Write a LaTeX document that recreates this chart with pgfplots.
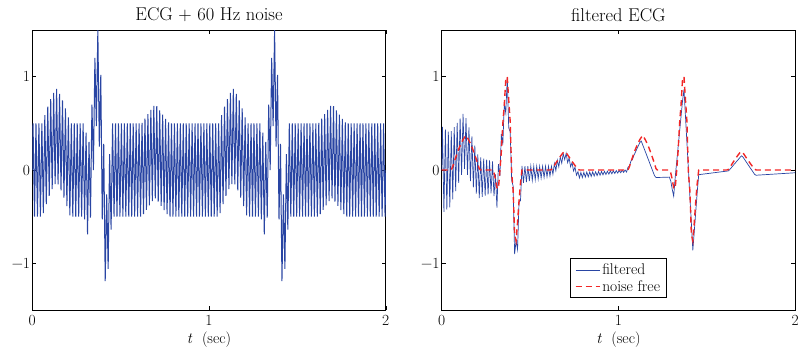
\documentclass[border=0pt]{standalone}
\usepackage{fontspec}
\setmainfont{Latin Modern Roman}
\usepackage{pgfplots}
\usepackage{pgfplotstable}
\pgfplotsset{compat=1.18}

\definecolor{ecgblue}{rgb}{0.16,0.27,0.64}
\definecolor{ecgred}{rgb}{0.95,0.15,0.15}

% t (sec), ECG with 60 Hz interference, noise-free ECG, notch-filtered output
\pgfplotstableread{
t noisy clean filt
0 0 0 0
0.00417 0.5 0 0.463
0.0125 -0.5 0 -0.449
0.02083 0.5 0 0.436
0.02917 -0.5 0 -0.424
0.0375 0.5 0 0.411
0.04583 -0.5 0 -0.399
0.05417 0.5 0 0.416
0.0625 -0.462 0.038 -0.314
0.07083 0.587 0.087 0.46
0.07917 -0.366 0.134 -0.225
0.0875 0.679 0.179 0.506
0.09583 -0.278 0.222 -0.139
0.10417 0.76 0.26 0.553
0.1125 -0.205 0.295 -0.052
0.12083 0.825 0.325 0.6
0.12917 -0.15 0.35 0.013
0.1375 0.87 0.37 0.556
0.14583 -0.155 0.345 -0.052
0.15417 0.816 0.316 0.457
0.1625 -0.217 0.283 -0.118
0.17083 0.746 0.246 0.359
0.17917 -0.295 0.205 -0.186
0.1875 0.66 0.16 0.262
0.19583 -0.386 0.114 -0.254
0.20417 0.565 0.065 0.166
0.2125 -0.485 0.015 -0.3
0.22083 0.5 0 0.134
0.22917 -0.5 0 -0.287
0.2375 0.5 0 0.122
0.24583 -0.5 0 -0.274
0.25417 0.5 0 0.112
0.2625 -0.5 0 -0.262
0.27083 0.5 0 0.102
0.27917 -0.5 0 -0.25
0.2875 0.5 0 0.092
0.29583 -0.53 -0.03 -0.279
0.30417 0.4 -0.1 -0.048
0.3125 -0.69 -0.19 -0.404
0.32083 0.3 -0.2 0.063
0.32917 -0.51 -0.01 -0.065
0.3375 0.7 0.2 0.386
0.34583 0 0.5 0.272
0.35417 1.2 0.7 0.708
0.3625 0.47 0.97 0.611
0.37083 1.5 1.0 0.988
0.37917 0.25 0.75 0.453
0.3875 1.02 0.52 0.408
0.39583 -0.53 -0.03 -0.109
0.40417 0.28 -0.22 -0.172
0.4125 -1.19 -0.69 -0.9
0.42083 -0.26 -0.76 -0.76
0.42917 -1.06 -0.56 -0.85
0.4375 0.17 -0.33 -0.344
0.44583 -0.64 -0.14 -0.329
0.45417 0.5 0 0.043
0.4625 -0.5 0 -0.138
0.47083 0.5 0 0.041
0.47917 -0.5 0 -0.129
0.4875 0.5 0 0.04
0.49583 -0.5 0 -0.12
0.50417 0.5 0 0.04
0.5125 -0.5 0 -0.111
0.52083 0.5 0 0.039
0.52917 -0.5 0 -0.103
0.5375 0.5 0 0.039
0.54583 -0.5 0 -0.095
0.55417 0.5 0 0.039
0.5625 -0.5 0 -0.087
0.57083 0.5 0 0.039
0.57917 -0.5 0 -0.08
0.5875 0.5 0 0.04
0.59583 -0.5 0 -0.072
0.60417 0.5 0 0.04
0.6125 -0.5 0 -0.064
0.62083 0.505 0.005 0.04
0.62917 -0.473 0.027 -0.046
0.6375 0.55 0.05 0.07
0.64583 -0.426 0.074 -0.006
0.65417 0.598 0.098 0.105
0.6625 -0.378 0.122 0.034
0.67083 0.645 0.145 0.14
0.67917 -0.333 0.167 0.073
0.6875 0.686 0.186 0.175
0.69583 -0.303 0.197 0.112
0.70417 0.685 0.185 0.178
0.7125 -0.338 0.162 0.079
0.72083 0.638 0.138 0.129
0.72917 -0.385 0.115 0.034
0.7375 0.592 0.092 0.08
0.74583 -0.43 0.07 -0.011
0.75417 0.549 0.049 0.031
0.7625 -0.472 0.028 -0.056
0.77083 0.509 0.009 -0.018
0.77917 -0.5 0 -0.085
0.7875 0.5 0 -0.026
0.79583 -0.5 0 -0.081
0.80417 0.5 0 -0.025
0.8125 -0.5 0 -0.076
0.82083 0.5 0 -0.023
0.82917 -0.5 0 -0.072
0.8375 0.5 0 -0.022
0.84583 -0.5 0 -0.069
0.85417 0.5 0 -0.02
0.8625 -0.5 0 -0.064
0.87083 0.5 0 -0.019
0.87917 -0.5 0 -0.06
0.8875 0.5 0 -0.017
0.89583 -0.5 0 -0.056
0.90417 0.5 0 -0.016
0.9125 -0.5 0 -0.052
0.92083 0.5 0 -0.014
0.92917 -0.5 0 -0.048
0.9375 0.5 0 -0.012
0.94583 -0.5 0 -0.044
0.95417 0.5 0 -0.01
0.9625 -0.5 0 -0.041
0.97083 0.5 0 -0.008
0.97917 -0.5 0 -0.037
0.9875 0.5 0 -0.006
0.99583 -0.5 0 -0.033
1.00417 0.5 0 -0.005
1.0125 -0.5 0 -0.029
1.02083 0.5 0 -0.003
1.02917 -0.5 0 -0.025
1.0375 0.5 0 -0.001
1.04583 -0.5 0 -0.022
1.05417 0.5 0 0.03
1.0625 -0.462 0.038 0.044
1.07083 0.587 0.087 0.097
1.07917 -0.366 0.134 0.114
1.0875 0.679 0.179 0.157
1.09583 -0.278 0.222 0.191
1.10417 0.76 0.26 0.226
1.1125 -0.205 0.295 0.26
1.12083 0.825 0.325 0.294
1.12917 -0.15 0.35 0.309
1.1375 0.87 0.37 0.268
1.14583 -0.155 0.345 0.227
1.15417 0.816 0.316 0.186
1.1625 -0.217 0.283 0.145
1.17083 0.746 0.246 0.104
1.17917 -0.295 0.205 0.062
1.1875 0.66 0.16 0.021
1.19583 -0.386 0.114 -0.02
1.20417 0.565 0.065 -0.061
1.2125 -0.485 0.015 -0.08
1.22083 0.5 0 -0.08
1.22917 -0.5 0 -0.08
1.2375 0.5 0 -0.079
1.24583 -0.5 0 -0.079
1.25417 0.5 0 -0.078
1.2625 -0.5 0 -0.078
1.27083 0.5 0 -0.077
1.27917 -0.5 0 -0.077
1.2875 0.5 0 -0.076
1.29583 -0.53 -0.03 -0.116
1.30417 0.4 -0.1 -0.207
1.3125 -0.69 -0.19 -0.28
1.32083 0.3 -0.2 -0.086
1.32917 -0.51 -0.01 0.08
1.3375 0.7 0.2 0.245
1.34583 0 0.5 0.409
1.35417 1.2 0.7 0.575
1.3625 0.47 0.97 0.74
1.37083 1.5 1.0 0.863
1.37917 0.25 0.75 0.574
1.3875 1.02 0.52 0.29
1.39583 -0.53 -0.03 0.005
1.40417 0.28 -0.22 -0.283
1.4125 -1.19 -0.69 -0.568
1.42083 -0.26 -0.76 -0.86
1.42917 -1.06 -0.56 -0.653
1.4375 0.17 -0.33 -0.443
1.44583 -0.64 -0.14 -0.233
1.45417 0.5 0 -0.05
1.4625 -0.5 0 -0.048
1.47083 0.5 0 -0.046
1.47917 -0.5 0 -0.044
1.4875 0.5 0 -0.042
1.49583 -0.5 0 -0.04
1.50417 0.5 0 -0.038
1.5125 -0.5 0 -0.036
1.52083 0.5 0 -0.034
1.52917 -0.5 0 -0.032
1.5375 0.5 0 -0.03
1.54583 -0.5 0 -0.028
1.55417 0.5 0 -0.026
1.5625 -0.5 0 -0.024
1.57083 0.5 0 -0.022
1.57917 -0.5 0 -0.02
1.5875 0.5 0 -0.018
1.59583 -0.5 0 -0.016
1.60417 0.5 0 -0.014
1.6125 -0.5 0 -0.012
1.62083 0.505 0.005 -0.011
1.62917 -0.473 0.027 0.004
1.6375 0.55 0.05 0.022
1.64583 -0.426 0.074 0.041
1.65417 0.598 0.098 0.06
1.6625 -0.378 0.122 0.078
1.67083 0.645 0.145 0.097
1.67917 -0.333 0.167 0.115
1.6875 0.686 0.186 0.134
1.69583 -0.303 0.197 0.152
1.70417 0.685 0.185 0.14
1.7125 -0.338 0.162 0.116
1.72083 0.638 0.138 0.093
1.72917 -0.385 0.115 0.069
1.7375 0.592 0.092 0.046
1.74583 -0.43 0.07 0.022
1.75417 0.549 0.049 -0.001
1.7625 -0.472 0.028 -0.025
1.77083 0.509 0.009 -0.048
1.77917 -0.5 0 -0.056
1.7875 0.5 0 -0.055
1.79583 -0.5 0 -0.054
1.80417 0.5 0 -0.053
1.8125 -0.5 0 -0.052
1.82083 0.5 0 -0.051
1.82917 -0.5 0 -0.05
1.8375 0.5 0 -0.049
1.84583 -0.5 0 -0.048
1.85417 0.5 0 -0.047
1.8625 -0.5 0 -0.046
1.87083 0.5 0 -0.045
1.87917 -0.5 0 -0.044
1.8875 0.5 0 -0.043
1.89583 -0.5 0 -0.042
1.90417 0.5 0 -0.041
1.9125 -0.5 0 -0.04
1.92083 0.5 0 -0.039
1.92917 -0.5 0 -0.038
1.9375 0.5 0 -0.037
1.94583 -0.5 0 -0.036
1.95417 0.5 0 -0.035
1.9625 -0.5 0 -0.034
1.97083 0.5 0 -0.033
1.97917 -0.5 0 -0.032
1.9875 0.5 0 -0.031
1.99583 -0.5 0 -0.03
2 0 0 -0.03
}\ecgdata

\pgfplotsset{
  ecgaxis/.style={
    scale only axis,
    width=353.5pt, height=280pt,
    xmin=0, xmax=2, ymin=-1.5, ymax=1.5,
    xtick={0,1,2}, ytick={-1,0,1},
    xticklabels={0,1,2}, yticklabels={−1,0,1},
    tick align=inside,
    major tick length=4pt,
    tick style={black, line width=0.5pt},
    axis line style={black, line width=0.9pt},
    tick label style={font=\fontsize{15.5}{18}\selectfont},
    xticklabel style={inner sep=2pt, yshift=-3pt},
    yticklabel style={inner sep=2pt},
    label style={font=\fontsize{15.5}{18}\selectfont},
    xlabel={\textit{t}\ \ (sec)},
    xlabel style={at={(0.5,0)}, anchor=north, inner sep=0pt, yshift=-22pt},
    title style={font=\fontsize{18.5}{21}\selectfont, yshift=-1pt},
    clip=true,
  },
}

\begin{document}
\begin{tikzpicture}
\useasboundingbox (-32.3pt,-39pt) rectangle (773.7pt,310pt);

\begin{axis}[ecgaxis, at={(0pt,0pt)}, anchor=south west,
  title={ECG + 60 Hz noise}]
  \addplot[ecgblue, line width=1pt] table[x=t, y=noisy] {\ecgdata};
\end{axis}

\begin{axis}[ecgaxis, at={(409.4pt,0pt)}, anchor=south west,
  title={filtered ECG},
  legend style={at={(0.5,0.043)}, anchor=south, draw=black,
    line width=0.8pt, font=\fontsize{15.5}{18}\selectfont,
    inner xsep=4pt, inner ysep=3pt},
  legend cell align=left,
  legend image code/.code={\draw[#1] (0pt,0pt) -- (24pt,0pt);}]
  \addplot[ecgblue, line width=0.7pt] table[x=t, y=filt] {\ecgdata};
  \addplot[ecgred, line width=1.4pt, dash pattern=on 6pt off 4pt] table[x=t, y=clean] {\ecgdata};
  \legend{filtered, noise free}
\end{axis}
\end{tikzpicture}
\end{document}
